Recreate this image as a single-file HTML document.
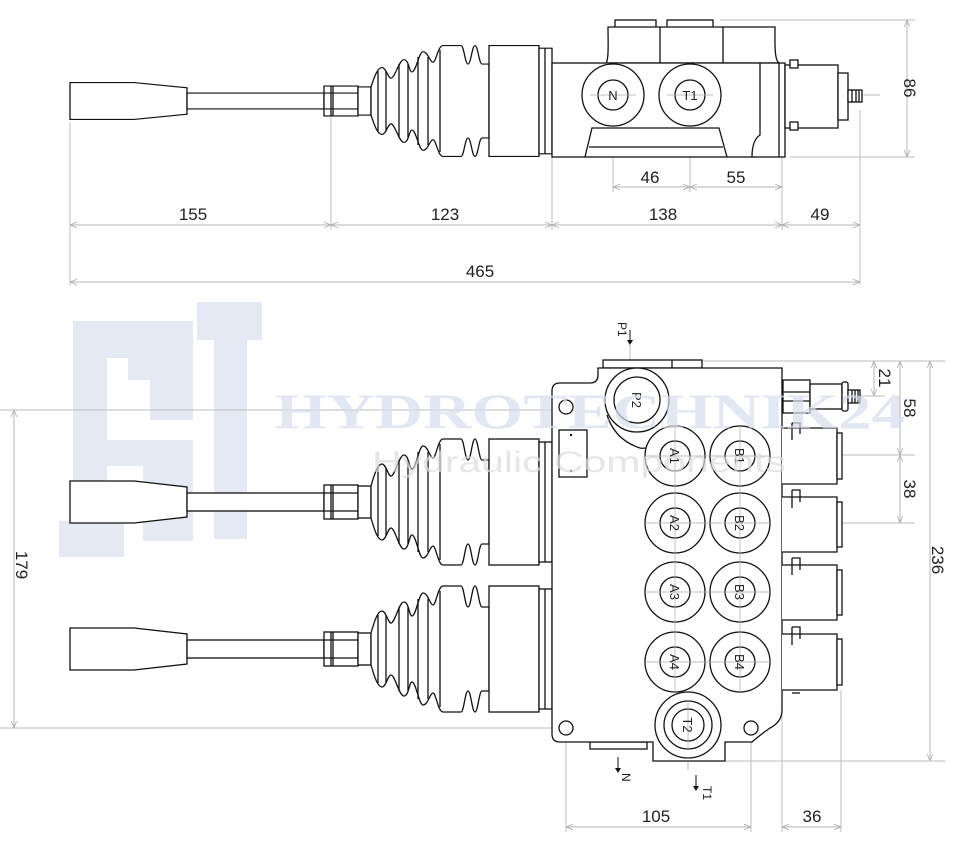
<!DOCTYPE html>
<html><head><meta charset="utf-8"><style>
html,body{margin:0;padding:0;background:#fff;}
svg{display:block;}
text{font-family:"Liberation Sans",sans-serif;}
</style></head><body>
<svg width="966" height="842" viewBox="0 0 966 842" xmlns="http://www.w3.org/2000/svg">
<defs>
<marker id="ar" viewBox="0 0 10 10" refX="10" refY="5" markerWidth="7" markerHeight="7" orient="auto-start-reverse"><path d="M0,1 L10,5 L0,9" fill="none" stroke="#b0b0b0" stroke-width="1.2"/></marker>
<g id="joy" fill="#fff" stroke="#111" stroke-width="1.3">
<path d="M70,-21 L134,-21 L187,-15 L187,15 L134,21 L70,21 Z"/>
<rect x="187" y="-9" width="137" height="18"/>
<rect x="324" y="-17" width="34" height="34"/>
<line x1="331" y1="-17" x2="331" y2="17"/><line x1="333" y1="-17" x2="333" y2="17"/>
<line x1="324" y1="-9" x2="358" y2="-9"/><line x1="324" y1="9" x2="358" y2="9"/>
<rect x="358" y="-16" width="13" height="32"/>
<path d="M371,-16 C375,-30 378,-38 382,-38 C386,-38 388,-26 391,-26 C395,-26 399,-47 404,-47 C409,-47 409,-33 412,-33 C416,-33 419,-56 423,-56 C428,-56 430,-44 433,-44 C436,-44 438,-63 443,-63 L461,-63 C464,-63 465,-42 468,-42 C471,-42 472,-63 475,-63 C478,-63 479,-42 482,-42 L489,-42 L489,42 L482,42 C479,42 478,63 475,63 C472,63 471,42 468,42 C465,42 464,63 461,63 L443,63 C438,63 436,44 433,44 C430,44 428,56 423,56 C419,56 416,33 412,33 C409,33 409,47 404,47 C399,47 395,26 391,26 C388,26 386,38 382,38 C378,38 375,30 371,16 Z"/>
<g fill="none"><line x1="378" y1="-34" x2="378" y2="34"/><line x1="386" y1="-34" x2="386" y2="34"/><line x1="399" y1="-42" x2="399" y2="42"/><line x1="408" y1="-42" x2="408" y2="42"/><line x1="418" y1="-50" x2="418" y2="50"/><line x1="428" y1="-50" x2="428" y2="50"/><line x1="440" y1="-58" x2="440" y2="58"/></g>
<rect x="489" y="-63" width="50" height="126"/>
<rect x="539" y="-60" width="13" height="120"/>
<line x1="545" y1="-60" x2="545" y2="60"/>
</g>
</defs>

<!-- watermark logo -->
<g fill="#e4e9f3">
<rect x="73" y="321" width="120" height="37"/>
<rect x="73" y="321" width="34" height="236"/>
<rect x="59" y="521" width="65" height="36"/>
<rect x="128" y="358" width="65" height="22"/>
<rect x="150" y="380" width="43" height="40"/>
<rect x="107" y="440" width="86" height="26"/>
<rect x="143" y="466" width="50" height="75"/>
<rect x="197" y="302" width="65" height="38"/>
<rect x="214" y="302" width="33" height="237"/>
</g>

<!-- dimension/extension lines -->
<g stroke="#bdbdbd" stroke-width="1" fill="none">
<line x1="70" y1="122" x2="70" y2="285"/><line x1="331" y1="112" x2="331" y2="230"/><line x1="552" y1="157" x2="552" y2="230"/><line x1="782" y1="140" x2="782" y2="230"/><line x1="860" y1="110" x2="860" y2="285"/>
<line x1="613" y1="95" x2="613" y2="192"/><line x1="690" y1="95" x2="690" y2="192"/><line x1="782" y1="130" x2="782" y2="192"/>
<line x1="540" y1="95" x2="880" y2="95"/>
<line x1="720" y1="20" x2="915" y2="20"/><line x1="790" y1="157" x2="915" y2="157"/>
<line x1="0" y1="410" x2="640" y2="410"/><line x1="0" y1="728" x2="566" y2="728"/>
<line x1="690" y1="361" x2="945" y2="361"/><line x1="725" y1="761" x2="945" y2="761"/>
<line x1="740" y1="455" x2="915" y2="455"/><line x1="740" y1="523" x2="915" y2="523"/>
<line x1="650" y1="396" x2="885" y2="396"/>
<line x1="566" y1="728" x2="566" y2="832"/><line x1="751" y1="728" x2="751" y2="832"/><line x1="782" y1="690" x2="782" y2="832"/><line x1="841" y1="690" x2="841" y2="832"/>
<line x1="630" y1="345" x2="630" y2="400"/><line x1="688" y1="740" x2="688" y2="770"/>
</g>
<g stroke="#b5b5b5" stroke-width="1" marker-start="url(#ar)" marker-end="url(#ar)">
<line x1="70" y1="225" x2="331" y2="225"/><line x1="331" y1="225" x2="552" y2="225"/><line x1="552" y1="225" x2="782" y2="225"/><line x1="782" y1="225" x2="860" y2="225"/>
<line x1="70" y1="282" x2="860" y2="282"/>
<line x1="613" y1="187" x2="690" y2="187"/><line x1="690" y1="187" x2="782" y2="187"/>
<line x1="907" y1="20" x2="907" y2="157"/>
<line x1="14" y1="410" x2="14" y2="728"/>
<line x1="930" y1="361" x2="930" y2="761"/>
<line x1="900" y1="361" x2="900" y2="455"/><line x1="900" y1="455" x2="900" y2="523"/>
<line x1="874" y1="361" x2="874" y2="396"/>
<line x1="566" y1="827" x2="751" y2="827"/><line x1="782" y1="827" x2="841" y2="827"/>
</g>
<g font-size="17" fill="#222" text-anchor="middle">
<text x="193" y="220">155</text><text x="445" y="220">123</text><text x="663" y="220">138</text><text x="820" y="220">49</text>
<text x="480" y="277">465</text>
<text x="650" y="183">46</text><text x="736" y="183">55</text>
<text transform="translate(904,88) rotate(90)">86</text>
<text transform="translate(16,565) rotate(90)">179</text>
<text transform="translate(932,560) rotate(90)">236</text>
<text transform="translate(904,408) rotate(90)">58</text>
<text transform="translate(904,489) rotate(90)">38</text>
<text transform="translate(879,378) rotate(90)">21</text>
<text x="656" y="822">105</text><text x="812" y="822">36</text>
</g>
<g font-size="12" fill="#222">
<text transform="translate(618,322) rotate(90)">P1</text>
<text transform="translate(622,773) rotate(90)">N</text>
<text transform="translate(703,786) rotate(90)">T1</text>
</g>
<g stroke="#111" stroke-width="1"><line x1="630" y1="330" x2="630" y2="342"/><line x1="618" y1="757" x2="618" y2="770"/><line x1="696" y1="775" x2="696" y2="788"/></g>
<g fill="#111"><path d="M627,340 L630,345 L633,340Z"/><path d="M615,768 L618,773 L621,768Z"/><path d="M693,786 L696,791 L699,786Z"/></g>

<!-- TOP VIEW -->
<use href="#joy" transform="translate(0,101) scale(1,0.88)"/>
<g fill="#fff" stroke="#111" stroke-width="1.3">
<rect x="615" y="20" width="41" height="8"/><rect x="667" y="20" width="46" height="8"/>
<path d="M606,63 C609,60 608,40 608,27 L775,27 C775,40 774,60 779,63 Z"/>
<line x1="660" y1="27" x2="660" y2="63"/><line x1="723" y1="27" x2="723" y2="63"/>
<rect x="552" y="63" width="233" height="94"/>
<path d="M585,157 L592,128 L719,128 L727,157" fill="none"/>
<line x1="589" y1="147" x2="723" y2="147"/>
<path d="M760,63 L760,135 Q752,140 752,157" fill="none"/>
<line x1="779" y1="63" x2="779" y2="157"/>
<circle cx="613" cy="95" r="31"/><circle cx="613" cy="95" r="15"/>
<circle cx="690" cy="95" r="31"/><circle cx="690" cy="95" r="15"/>
<rect x="785" y="65" width="53" height="63"/>
<rect x="790" y="60" width="8" height="8"/><rect x="790" y="122" width="8" height="8"/>
<rect x="838" y="73" width="10" height="47"/>
<rect x="848" y="90" width="14" height="12"/>
<line x1="852" y1="90" x2="852" y2="102"/><line x1="856" y1="90" x2="856" y2="102"/><line x1="859" y1="90" x2="859" y2="102"/>
</g>
<g stroke="#aaa" stroke-width="0.8"><line x1="590" y1="95" x2="636" y2="95"/><line x1="667" y1="95" x2="713" y2="95"/></g>
<g font-size="13" fill="#222" text-anchor="middle"><text x="613" y="100">N</text><text x="690" y="100">T1</text></g>

<!-- BOTTOM VIEW -->
<use href="#joy" transform="translate(0,502)"/>
<use href="#joy" transform="translate(0,649)"/>
<g fill="#fff" stroke="#111" stroke-width="1.3">
<rect x="603" y="360" width="99" height="8"/><line x1="672" y1="360" x2="672" y2="368"/>
<rect x="590" y="742" width="57" height="7"/>
<path d="M560,383 L590,383 Q598,383 598,375 L598,368 L782,368 L782,710 Q782,722 770,728 Q760,735 752,742 L725,742 L725,761 L653,761 L653,742 L560,742 Q552,742 552,734 L552,391 Q552,383 560,383 Z"/>
<rect x="783" y="380" width="27" height="33"/><line x1="783" y1="392" x2="810" y2="392"/><line x1="783" y1="401" x2="810" y2="401"/>
<rect x="810" y="384" width="32" height="25"/>
<rect x="842" y="382" width="6" height="29" rx="2"/>
<rect x="848" y="390" width="12" height="13"/>
<line x1="852" y1="390" x2="852" y2="403"/><line x1="855" y1="390" x2="855" y2="403"/><line x1="858" y1="390" x2="858" y2="403"/>
<path d="M782,428 L837,428 L837,484 L782,484"/><rect x="837" y="433" width="5" height="46"/>
<path d="M782,497 L837,497 L837,552 L782,552"/><rect x="837" y="502" width="5" height="45"/>
<path d="M782,565 L837,565 L837,620 L782,620"/><rect x="837" y="570" width="5" height="45"/>
<path d="M782,634 L837,634 L837,690 L782,690"/><rect x="837" y="639" width="5" height="46"/>
<g fill="none"><path d="M792,423 L800,423 L800,434 M792,423 L792,440"/><path d="M792,490 L800,490 L800,502 M792,490 L792,508"/><path d="M792,558 L800,558 L800,570 M792,558 L792,575"/><path d="M792,627 L800,627 L800,639 M792,627 L792,645"/><line x1="792" y1="693" x2="800" y2="693"/></g>
<path d="M607,415 Q615,440 640,448 Q650,450 660,438" fill="none"/>
<circle cx="637" cy="400" r="32"/>
<circle cx="675" cy="456" r="30"/><circle cx="740" cy="456" r="30"/>
<circle cx="675" cy="523" r="30"/><circle cx="740" cy="523" r="30"/>
<circle cx="675" cy="592" r="30"/><circle cx="740" cy="592" r="30"/>
<circle cx="675" cy="662" r="30"/><circle cx="740" cy="662" r="30"/>
<circle cx="688" cy="725" r="33"/>
<circle cx="637" cy="400" r="23"/>
<circle cx="688" cy="725" r="24"/><circle cx="688" cy="725" r="16"/>
<circle cx="675" cy="456" r="15"/><circle cx="740" cy="456" r="15"/>
<circle cx="675" cy="523" r="15"/><circle cx="740" cy="523" r="15"/>
<circle cx="675" cy="592" r="15"/><circle cx="740" cy="592" r="15"/>
<circle cx="675" cy="662" r="15"/><circle cx="740" cy="662" r="15"/>
<circle cx="566" cy="407" r="7"/><circle cx="566" cy="728" r="7"/><circle cx="751" cy="728" r="7"/>
<rect x="559" y="430" width="28" height="47"/>
</g>
<g fill="#111"><circle cx="571" cy="435" r="1.2"/><circle cx="571" cy="471" r="1.2"/></g>
<g stroke="#aaa" stroke-width="0.7">
<line x1="675" y1="426" x2="675" y2="692"/><line x1="740" y1="426" x2="740" y2="692"/>
<line x1="645" y1="456" x2="770" y2="456"/><line x1="645" y1="523" x2="770" y2="523"/><line x1="645" y1="592" x2="770" y2="592"/><line x1="645" y1="662" x2="770" y2="662"/>
<line x1="688" y1="700" x2="688" y2="750"/>
</g>
<g font-size="13" fill="#222" text-anchor="middle">
<text transform="translate(632,400) rotate(90)">P2</text>
<text transform="translate(670,456) rotate(90)">A1</text><text transform="translate(735,456) rotate(90)">B1</text>
<text transform="translate(670,523) rotate(90)">A2</text><text transform="translate(735,523) rotate(90)">B2</text>
<text transform="translate(670,592) rotate(90)">A3</text><text transform="translate(735,592) rotate(90)">B3</text>
<text transform="translate(670,662) rotate(90)">A4</text><text transform="translate(735,662) rotate(90)">B4</text>
<text transform="translate(683,725) rotate(90)">T2</text>
</g>

<!-- watermark text overlay -->
<text x="275" y="428" font-weight="bold" font-size="50" fill="#d5deee" fill-opacity="0.7" textLength="630" lengthAdjust="spacingAndGlyphs" style="font-family:'Liberation Serif',serif">HYDROTECHNIK24</text>
<text x="372" y="472" font-size="30" fill="#dcdcdc" fill-opacity="0.7" textLength="414" lengthAdjust="spacingAndGlyphs">Hydraulic Components</text>
</svg>
</body></html>
